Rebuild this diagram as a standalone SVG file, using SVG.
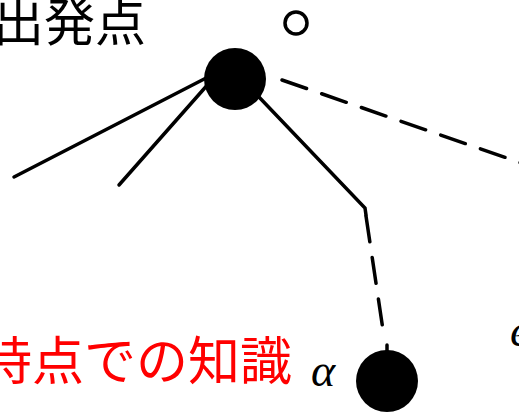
<svg xmlns="http://www.w3.org/2000/svg" width="519" height="413" viewBox="0 0 519 413">
<style>
.edge{fill:none;stroke:#000;stroke-width:3.5;stroke-linecap:round}
.dash{stroke-dasharray:26 16}
.node{fill:#000}
.lbl{font-family:"Noto Sans CJK JP","Noto Sans",sans-serif}
.greek{font-family:"Liberation Serif","DejaVu Serif",serif;font-style:italic}
</style>
<rect width="519" height="413" fill="#fff"/>
<g id="connectors">
<line class="edge" x1="210" y1="76" x2="14" y2="177"/>
<line class="edge" x1="210" y1="82" x2="119" y2="185"/>
<polyline class="edge" points="258,96 365,208 366,215"/>
<line class="edge dash" x1="366" y1="216" x2="383" y2="330"/>
<line class="edge" x1="387" y1="345" x2="387" y2="352"/>
<line class="edge dash" x1="282" y1="80" x2="530" y2="166"/>
</g>
<g id="start-node"><circle class="node" cx="235" cy="79" r="31"/></g>
<g id="small-node"><circle cx="296" cy="23" r="11" fill="none" stroke="#000" stroke-width="3.5"/></g>
<g id="alpha-node"><circle class="node" cx="387" cy="381" r="31"/></g>
<g id="labels">
<text class="lbl" x="-7" y="41" font-size="51" fill="#000">出発点</text>
<text class="lbl" x="-20" y="380" font-size="52" fill="#f00">時点での知識</text>
<text class="greek" x="311" y="386" font-size="46" fill="#000">α</text>
<text class="greek" x="510" y="346" font-size="46" fill="#000">e</text>
</g>
</svg>
